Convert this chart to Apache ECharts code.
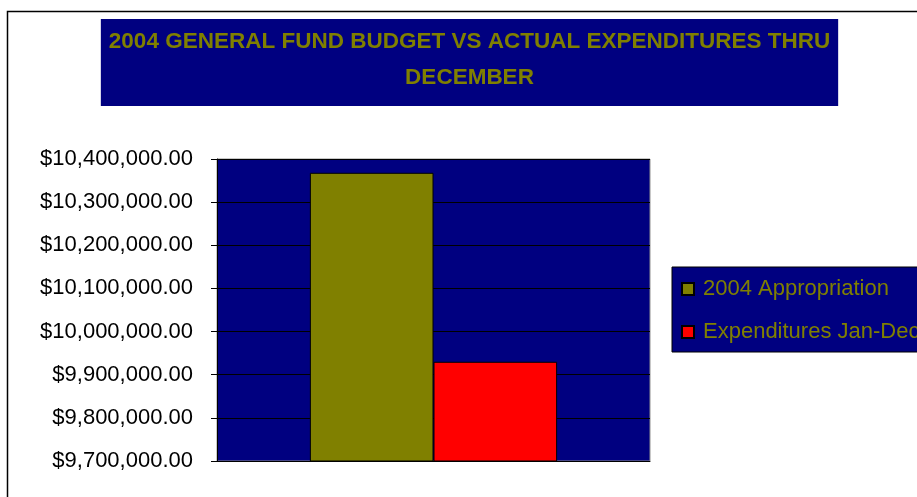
<!DOCTYPE html>
<html>
<head>
<meta charset="utf-8">
<script src="https://cdn.jsdelivr.net/npm/echarts@6/dist/echarts.min.js"></script>
<style>
  html, body { margin: 0; padding: 0; background: #fff; }
  #chart { width: 917px; height: 497px; }
</style>
</head>
<body>
<div id="chart"></div>
<script>
// 图表数据
var titleText = '2004 GENERAL FUND BUDGET VS ACTUAL EXPENDITURES THRU\nDECEMBER';
var categories = [''];
var seriesNames = ['2004 Appropriation', 'Expenditures Jan-Dec'];
var appropriation = [10368000];
var expenditures = [9930000];
var yMin = 9700000;
var yMax = 10400000;
var yStep = 100000;

var seriesColors = ['#808000', '#FF0000'];

function moneyLabel(v) {
  return '$' + v.toLocaleString('en-US') + '.00';
}

var chartDom = document.getElementById('chart');
var budgetChart = echarts.init(chartDom);

var budgetOption = {
  animation: false,
  backgroundColor: '#ffffff',
  textStyle: { fontFamily: 'Liberation Sans' },
  title: {
    text: titleText,
    left: 461.5,
    top: 19,
    textAlign: 'center',
    backgroundColor: '#000080',
    padding: [5, 8, 10, 8],
    textStyle: {
      color: '#808000',
      fontFamily: 'Liberation Sans',
      fontWeight: 'bold',
      fontSize: 22.5,
      lineHeight: 36
    }
  },
  graphic: [{
    type: 'rect',
    silent: true,
    shape: { x: 7.5, y: 11.5, width: 1000, height: 600 },
    style: { fill: 'none', stroke: '#000', lineWidth: 1.5 }
  }],
  legend: {
    orient: 'vertical',
    left: 672,
    top: 267,
    padding: [11, 30, 9, 9],
    itemGap: 21,
    itemWidth: 12,
    itemHeight: 12,
    icon: 'rect',
    backgroundColor: '#000080',
    borderColor: '#000',
    borderWidth: 1,
    textStyle: {
      color: '#808000',
      fontFamily: 'Liberation Sans',
      fontSize: 22,
      padding: [0, 0, 0, 4]
    },
    data: seriesNames
  },
  grid: {
    left: 217,
    top: 159,
    right: 267,
    bottom: 36,
    show: true,
    backgroundColor: '#000080',
    borderColor: '#909090',
    borderWidth: 1
  },
  xAxis: {
    type: 'category',
    data: categories,
    axisLine: { lineStyle: { color: '#000' } },
    axisTick: { show: false },
    axisLabel: { show: false }
  },
  yAxis: {
    type: 'value',
    min: yMin,
    max: yMax,
    interval: yStep,
    axisLine: { show: true, lineStyle: { color: '#000' } },
    axisTick: { show: true, length: 6, lineStyle: { color: '#000' } },
    axisLabel: {
      color: '#000',
      fontFamily: 'Liberation Sans',
      fontSize: 22,
      margin: 24,
      formatter: moneyLabel
    },
    splitLine: { show: true, lineStyle: { color: '#000', width: 1 } }
  },
  series: [{
    name: seriesNames[0],
    type: 'bar',
    data: appropriation,
    barGap: '0%',
    barCategoryGap: '42.9%',
    itemStyle: { color: seriesColors[0], borderColor: '#000', borderWidth: 1 }
  }, {
    name: seriesNames[1],
    type: 'bar',
    data: expenditures,
    barGap: '0%',
    barCategoryGap: '42.9%',
    itemStyle: { color: seriesColors[1], borderColor: '#000', borderWidth: 1 }
  }]
};

budgetChart.setOption(budgetOption, true);
</script>
</body>
</html>
